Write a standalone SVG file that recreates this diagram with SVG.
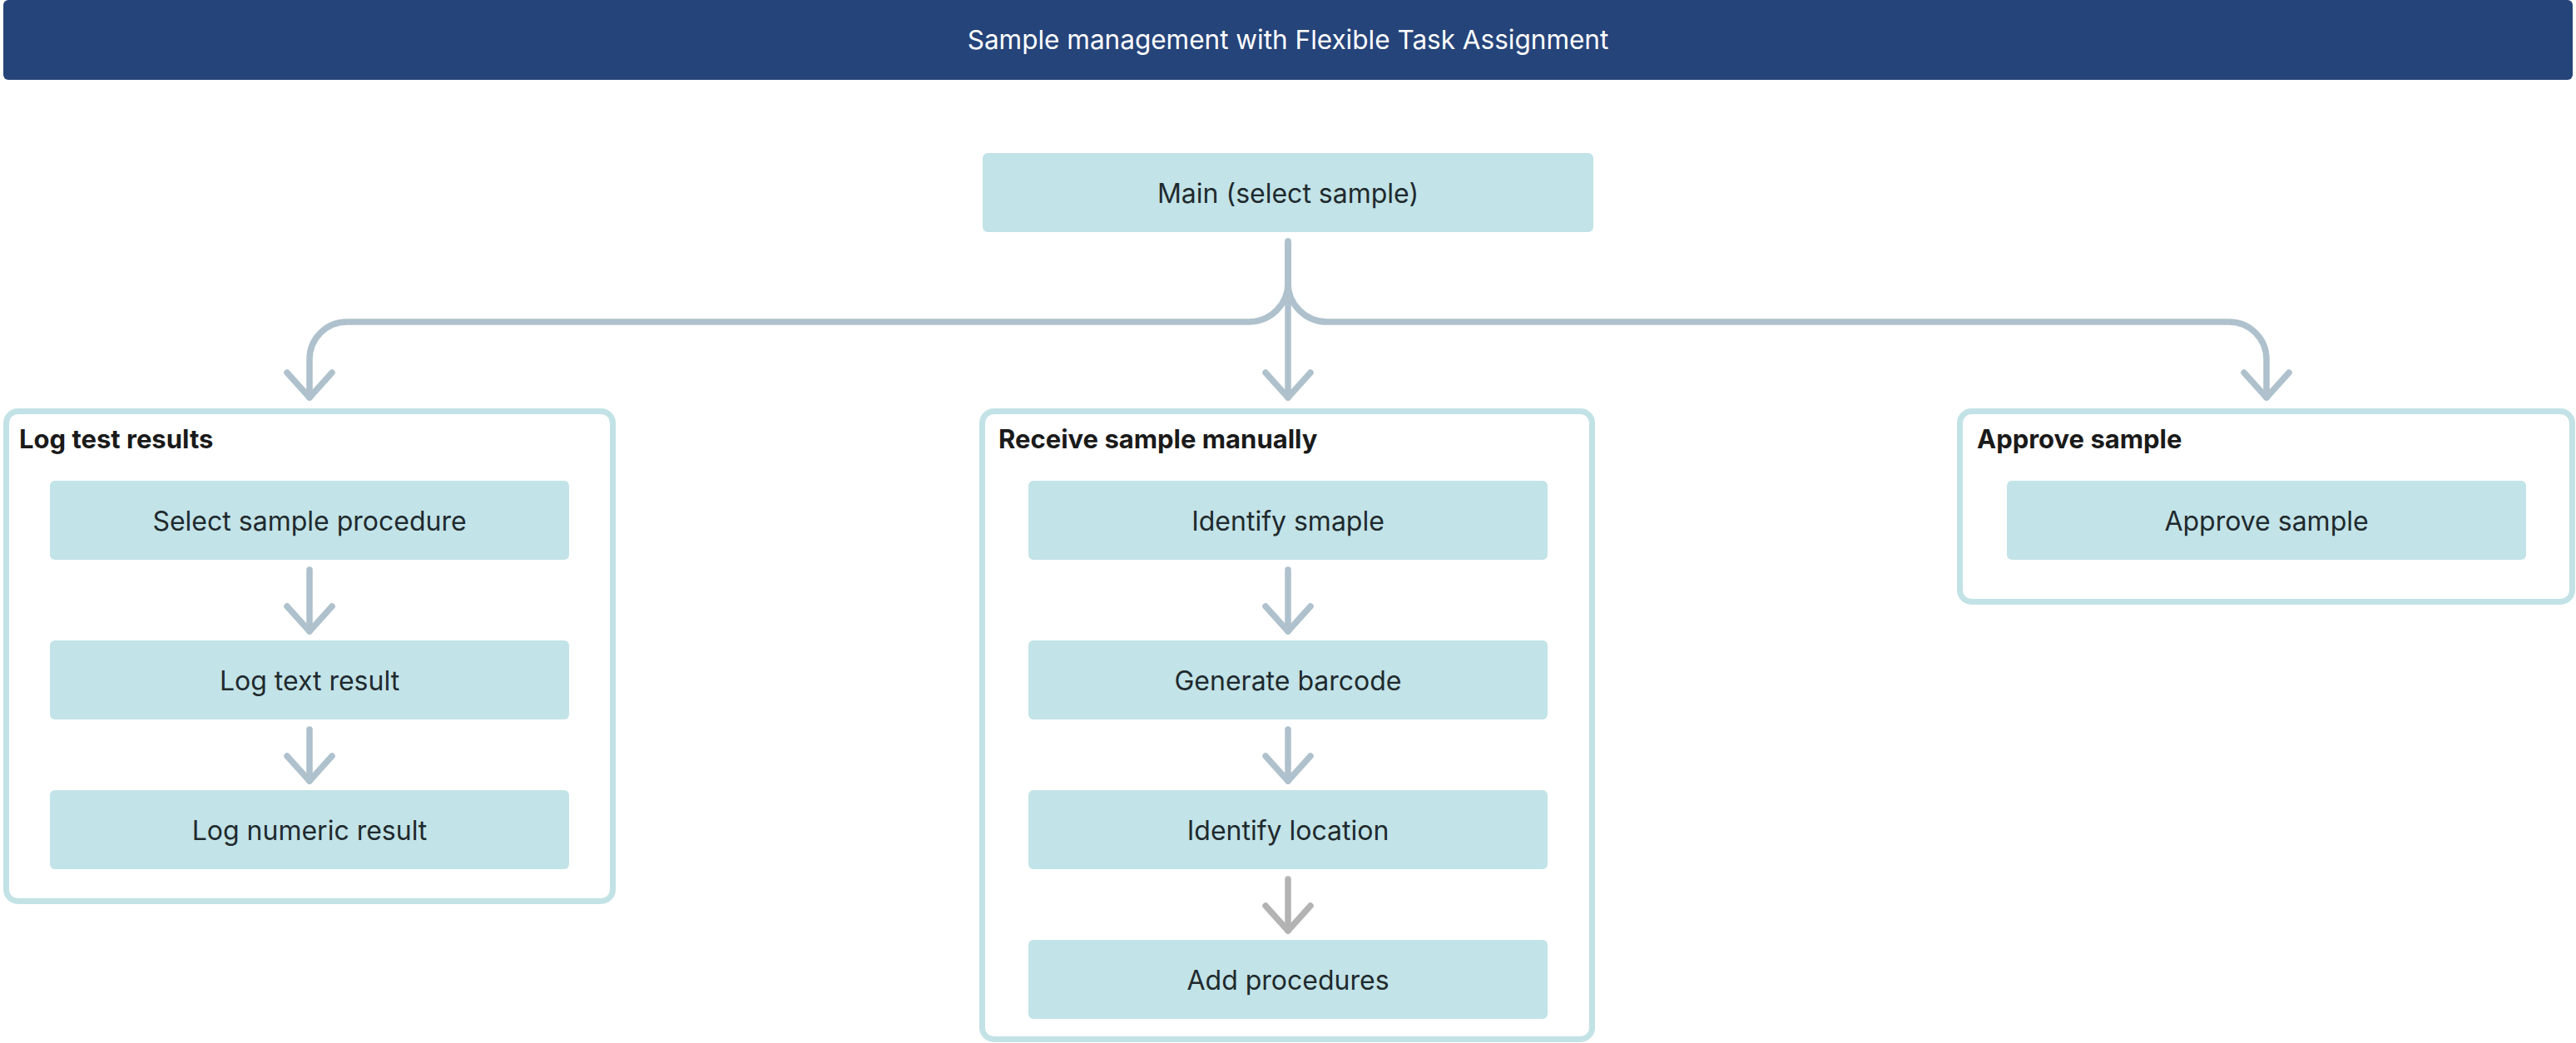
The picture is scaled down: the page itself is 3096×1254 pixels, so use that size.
<svg xmlns="http://www.w3.org/2000/svg" width="3096" height="1254" viewBox="0 0 3096 1254">
<defs>
<style>
.hdr{fill:#25447a}
.hdrt{font-family:Inter,"Liberation Sans",sans-serif;font-size:31.5px;fill:#ffffff;text-anchor:middle}
.grp{fill:#ffffff;stroke:#c2e2e6;stroke-width:7}
.gt{font-family:Inter,"Liberation Sans",sans-serif;font-size:31px;font-weight:700;fill:#1a1a1a}
.nd{fill:#c2e3e7}
.nt{font-family:Inter,"Liberation Sans",sans-serif;font-size:32px;fill:#1f2a2e;text-anchor:middle}
.cn{fill:none;stroke:#aec1cc;stroke-width:7.5;stroke-linecap:round;stroke-linejoin:round}
.cg{fill:none;stroke:#b3b3b3;stroke-width:7.5;stroke-linecap:round;stroke-linejoin:round}
</style>
<marker id="arr" markerUnits="userSpaceOnUse" orient="auto" refX="0" refY="0" markerWidth="80" markerHeight="80" viewBox="-40 -40 80 80" overflow="visible">
<path d="M-30,-27 L0,0 L-30,27" fill="none" stroke="#aec1cc" stroke-width="7.5" stroke-linecap="round" stroke-linejoin="round"/>
</marker>
<marker id="arrg" markerUnits="userSpaceOnUse" orient="auto" refX="0" refY="0" markerWidth="80" markerHeight="80" viewBox="-40 -40 80 80" overflow="visible">
<path d="M-30,-27 L0,0 L-30,27" fill="none" stroke="#b3b3b3" stroke-width="7.5" stroke-linecap="round" stroke-linejoin="round"/>
</marker>
</defs>
<rect width="3096" height="1254" fill="#ffffff"/>
<g id="header">
<rect class="hdr" x="4" y="0" width="3088" height="96" rx="6"/>
<text class="hdrt" x="1548" y="59">Sample management with Flexible Task Assignment</text>
</g>
<g id="main">
<rect class="nd" x="1181" y="184" width="734" height="95" rx="6"/>
<text class="nt" x="1548" y="244">Main (select sample)</text>
</g>
<g id="grp-log">
<rect class="grp" x="7.5" y="494.5" width="729" height="589" rx="14"/>
<text class="gt" x="23" y="539">Log test results</text>
</g>
<g id="grp-receive">
<rect class="grp" x="1180.5" y="494.5" width="733" height="755" rx="14"/>
<text class="gt" x="1200" y="539">Receive sample manually</text>
</g>
<g id="grp-approve">
<rect class="grp" x="2355.5" y="494.5" width="736" height="229" rx="14"/>
<text class="gt" x="2376" y="539">Approve sample</text>
</g>
<g id="n-select-procedure">
<rect class="nd" x="60" y="578" width="624" height="95" rx="6"/>
<text class="nt" x="372" y="638">Select sample procedure</text>
</g>
<g id="n-log-text">
<rect class="nd" x="60" y="770" width="624" height="95" rx="6"/>
<text class="nt" x="372" y="830">Log text result</text>
</g>
<g id="n-log-numeric">
<rect class="nd" x="60" y="950" width="624" height="95" rx="6"/>
<text class="nt" x="372" y="1010">Log numeric result</text>
</g>
<g id="n-identify-sample">
<rect class="nd" x="1236" y="578" width="624" height="95" rx="6"/>
<text class="nt" x="1548" y="638">Identify smaple</text>
</g>
<g id="n-generate-barcode">
<rect class="nd" x="1236" y="770" width="624" height="95" rx="6"/>
<text class="nt" x="1548" y="830">Generate barcode</text>
</g>
<g id="n-identify-location">
<rect class="nd" x="1236" y="950" width="624" height="95" rx="6"/>
<text class="nt" x="1548" y="1010">Identify location</text>
</g>
<g id="n-add-procedures">
<rect class="nd" x="1236" y="1130" width="624" height="95" rx="6"/>
<text class="nt" x="1548" y="1190">Add procedures</text>
</g>
<g id="n-approve-sample">
<rect class="nd" x="2412" y="578" width="624" height="95" rx="6"/>
<text class="nt" x="2724" y="638">Approve sample</text>
</g>
<g id="connectors">
<path class="cn" d="M1548,290 V478" marker-end="url(#arr)"/>
<path class="cn" d="M1548,292 V340 A47,47 0 0 1 1501,387 H417 A45,45 0 0 0 372,432 V478" marker-end="url(#arr)"/>
<path class="cn" d="M1548,292 V340 A47,47 0 0 0 1595,387 H2679 A45,45 0 0 1 2724,432 V478" marker-end="url(#arr)"/>
<path class="cn" d="M372,685 V759" marker-end="url(#arr)"/>
<path class="cn" d="M372,877 V939" marker-end="url(#arr)"/>
<path class="cn" d="M1548,685 V759" marker-end="url(#arr)"/>
<path class="cn" d="M1548,877 V939" marker-end="url(#arr)"/>
<path class="cg" d="M1548,1057 V1119" marker-end="url(#arrg)"/>
</g>
</svg>
